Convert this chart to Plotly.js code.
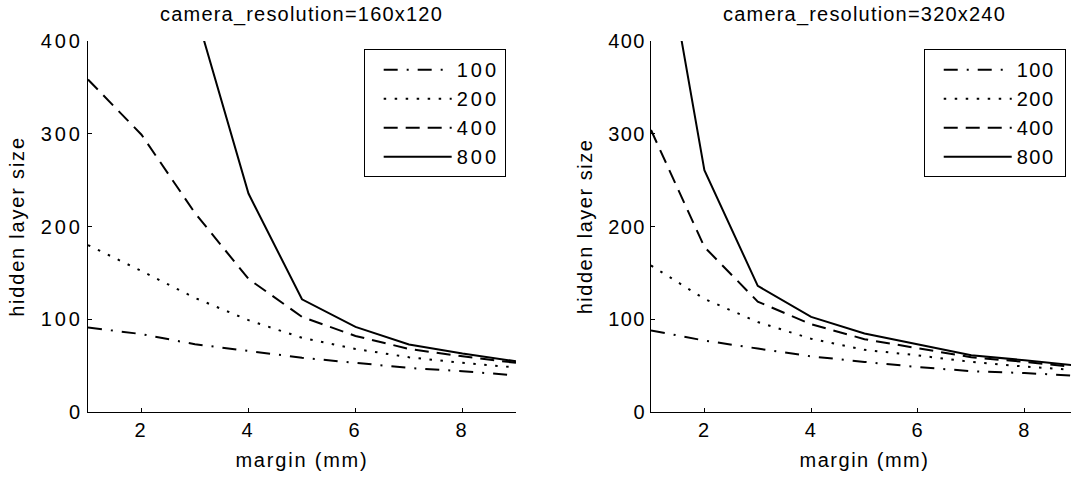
<!DOCTYPE html>
<html><head><meta charset="utf-8">
<script src="https://cdn.plot.ly/plotly-3.0.1.min.js"></script>
<style>
html,body{margin:0;padding:0;overflow:hidden;background:#fff;width:1071px;height:479px}
#chart{width:1078px;height:479px}
svg text{letter-spacing:1.5px}
.xtick text,.ytick text,.legendtext{letter-spacing:3px}
.xtitle,.ytitle{letter-spacing:1.8px}
.annotation-text{letter-spacing:1.2px}
</style></head><body><div id="chart"></div>
<script>
// x values: margin (mm)
const margins = [1, 2, 3, 4, 5, 6, 7, 8, 9];
const seriesNames = ['100', '200', '400', '800'];
const panelTitles = ['camera_resolution=160x120', 'camera_resolution=320x240'];
const xTicks = [2, 4, 6, 8];
const yTicks = [0, 100, 200, 300, 400];

// camera_resolution=160x120
const low100 = [91, 84, 73, 65.5, 58.5, 53, 47.5, 44, 39.5];
const low200 = [180, 152, 123, 99, 80, 68, 59, 53, 48];
const low400 = [358.5, 299, 214.5, 143.5, 102.5, 82, 68, 60, 53];
const low800 = [1000, 650, 434, 235.5, 121.5, 91.7, 72.7, 63, 54.7];

// camera_resolution=320x240
const high100 = [88, 77, 68.4, 60, 54, 48.5, 44, 42, 39];
const high200 = [158, 122, 97, 79, 67, 61, 54, 49, 45];
const high400 = [304, 178, 119, 94.6, 78.5, 68.4, 59, 54, 48];
const high800 = [588, 260.7, 136, 102.5, 84.6, 73, 61.2, 55.8, 50];

const dashes = ['14px,9px,2px,9px', '2.5px,8.5px', '14px,8px', 'solid'];
const panels = [
  {series: [low100, low200, low400, low800], xa: 'x', ya: 'y', lg: 'legend'},
  {series: [high100, high200, high400, high800], xa: 'x2', ya: 'y2', lg: 'legend2'}
];

const data = [];
panels.forEach((p, pi) => {
  p.series.forEach((vals, si) => {
    data.push({
      type: 'scatter', mode: 'lines',
      x: margins, y: vals,
      name: seriesNames[si],
      xaxis: p.xa, yaxis: p.ya, legend: p.lg,
      legendgroup: 'g' + pi + si,
      line: {color: '#000', width: 2, dash: dashes[si]},
      hoverinfo: 'skip'
    });
  });
});

const font = {family: '"Liberation Sans", Arial, Helvetica, sans-serif', size: 20, color: '#000'};
function xAx(domain, anchor) {
  return {domain: domain, anchor: anchor, range: [1, 9], tickvals: xTicks, ticktext: xTicks.map(String),
    ticks: 'inside', ticklen: 4, tickwidth: 1, tickcolor: '#000',
    showline: true, linecolor: '#000', linewidth: 1, mirror: false,
    showgrid: false, zeroline: false, fixedrange: true,
    title: {text: 'margin (mm)', font: font, standoff: 12}, tickfont: font};
}
function yAx(anchor) {
  return {domain: [0, 1], anchor: anchor, range: [0, 400], tickvals: yTicks, ticktext: yTicks.map(String),
    ticks: 'inside', ticklen: 4, tickwidth: 1, tickcolor: '#000', ticklabelstandoff: 0,
    showline: true, linecolor: '#000', linewidth: 1, mirror: false,
    showgrid: false, zeroline: false, fixedrange: true,
    title: {text: 'hidden layer size', font: font, standoff: 10}, tickfont: font};
}
function leg(x) {
  return {x: x, xanchor: 'right', y: 0.978, yanchor: 'top', bgcolor: '#fff',
    bordercolor: '#000', borderwidth: 1, itemwidth: 82, tracegroupgap: 0,
    font: font, itemclick: false, itemdoubleclick: false};
}

const layout = {
  width: 1078, height: 479,
  margin: {l: 88, r: 0, t: 41, b: 67, pad: 0},
  paper_bgcolor: '#fff', plot_bgcolor: '#fff',
  font: font, showlegend: true,
  xaxis: xAx([0, 0.4323], 'y'),
  yaxis: yAx('x'),
  xaxis2: xAx([0.5687, 1], 'y2'),
  yaxis2: yAx('x2'),
  legend: leg(0.4219),
  legend2: leg(0.9876),
  annotations: panelTitles.map((t, i) => ({
    text: t, xref: (i === 0 ? 'x' : 'x2') + ' domain', yref: (i === 0 ? 'y' : 'y2') + ' domain',
    x: 0.5, y: 1, xanchor: 'center', yanchor: 'bottom', yshift: 13, showarrow: false, font: font
  }))
};

Plotly.newPlot('chart', data, layout, {staticPlot: true, displayModeBar: false}).then(gd => {
  gd.querySelectorAll('.legendlines path').forEach(p => p.setAttribute('d', 'M19,0h68'));
});
</script></body></html>
